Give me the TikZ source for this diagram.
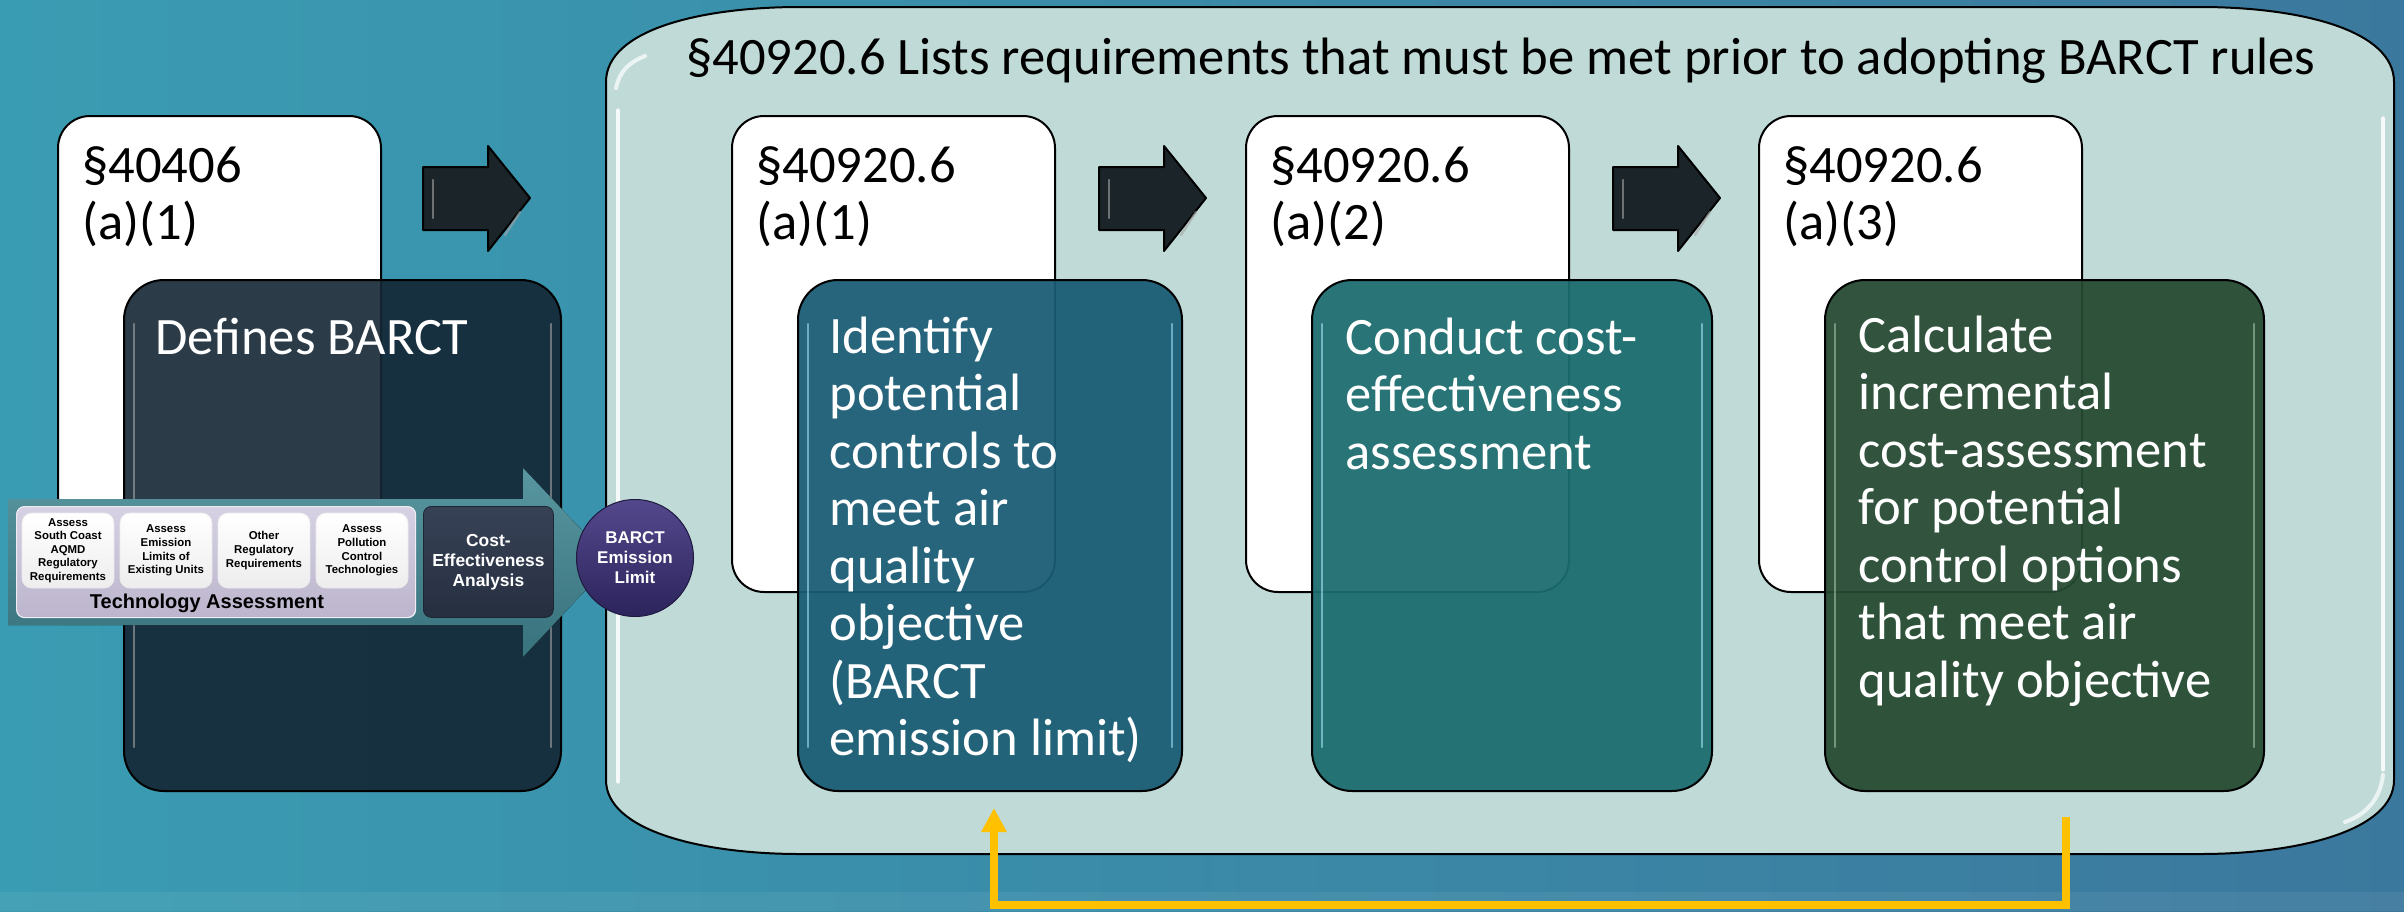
\documentclass[tikz,border=0pt]{standalone}
\usepackage{fontspec}
\setmainfont{Carlito}
\newfontfamily\arialf{Liberation Sans}
\usetikzlibrary{arrows.meta,calc}
\definecolor{bgL}{RGB}{58,156,178}
\definecolor{bgR}{RGB}{59,120,157}
\definecolor{cont}{RGB}{192,218,215}
\definecolor{darkb}{RGB}{20,38,52}
\definecolor{blueb}{RGB}{26,92,116}
\definecolor{tealb}{RGB}{28,108,110}
\definecolor{greenb}{RGB}{38,74,50}
\definecolor{arrowd}{RGB}{27,36,40}
\definecolor{bandT}{RGB}{88,150,160}
\definecolor{bandB}{RGB}{56,114,124}
\definecolor{lavT}{RGB}{214,209,227}
\definecolor{lavB}{RGB}{188,181,205}
\definecolor{ceaT}{RGB}{56,66,86}
\definecolor{ceaB}{RGB}{38,47,64}
\definecolor{circT}{RGB}{84,72,140}
\definecolor{circB}{RGB}{44,36,92}
\definecolor{yel}{RGB}{255,192,0}
\tikzset{
  whitebox/.style={draw=black, line width=1pt, fill=white, rounded corners=16pt,
    minimum width=161.5pt, minimum height=238pt, anchor=north west, inner sep=0},
  colbox/.style={draw=black, line width=1pt, rounded corners=20pt, fill opacity=.94,
    minimum height=255.5pt, anchor=north west, inner sep=0},
  bigtxt/.style={inner sep=0, anchor=base west, font=\fontsize{26.3}{28.75}\selectfont},
  blockarrow/.style={fill=arrowd, draw=black, line width=1pt, line join=round},
  glint/.style={line width=1.2pt, opacity=.6, line cap=round},
  minibox/.style={draw=white!85!gray, line width=0.4pt, rounded corners=5pt,
    top color=white, bottom color=gray!14, minimum width=46pt, minimum height=37.5pt,
    inner sep=0, align=center, text=black,
    font=\arialf\bfseries\fontsize{5.7}{6.8}\selectfont},
  smallbold/.style={inner sep=0, align=center, text=white,
    font=\arialf\bfseries\fontsize{8.7}{10}\selectfont},
}
\newcommand\lines[1]{\parbox[t]{300pt}{\raggedright #1}}
\begin{document}
\begin{tikzpicture}[x=0.5pt,y=-0.5pt]
\useasboundingbox (0,0) rectangle (2404,911);
% background
\fill[left color=bgL, right color=bgR] (0,0) rectangle (2404,911);
\fill[white, opacity=.06] (0,892) rectangle (2404,911);

% left section
\node[whitebox] (w0) at (57,115) {};
\node[bigtxt] (w0t) at ($(w0.north west)+(25,67)$) {\lines{§40406\\(a)(1)}};
\draw[blockarrow] (423,167) -- ++(65,0) -- ++(0,-21) -- ++(42,52) -- ++(-42,53) -- ++(0,-21) -- ++(-65,0) -- cycle;
\draw[glint, gray!70] (433,180) -- (433,218);
\draw[glint, gray!70] (505,235) -- (520,212);

% container
\draw[fill=cont, line width=1pt] (606,82) -- (606,780) .. controls (606,830) and (700,854) .. (800,854)
  -- (2200,854) .. controls (2300,854) and (2394,830) .. (2394,780) -- (2394,82)
  .. controls (2394,30) and (2300,7) .. (2200,7) -- (800,7) .. controls (700,7) and (606,30) .. (606,82) -- cycle;
\draw[white, line width=1.6pt, opacity=.85, line cap=round] (618,110) -- (618,782);
\draw[white, line width=1.6pt, opacity=.85, line cap=round] (2383,118) -- (2383,770);
\draw[white, line width=2pt, opacity=.7, line cap=round] (616,88) .. controls (620,70) and (630,62) .. (645,56);
\draw[white, line width=2pt, opacity=.7, line cap=round] (2383,775) .. controls (2380,800) and (2365,815) .. (2345,822);
\node[inner sep=0, anchor=base west, font=\fontsize{26.3}{30}\selectfont] (title) at (686,74)
  {§40920.6 Lists requirements that must be met prior to adopting BARCT rules};

% white boxes inside container
\node[whitebox] (w1) at (731,115) {};
\node[whitebox] (w2) at (1245,115) {};
\node[whitebox] (w3) at (1758,115) {};
\node[bigtxt] (w1t) at ($(w1.north west)+(25,67)$) {\lines{§40920.6\\(a)(1)}};
\node[bigtxt] (w2t) at ($(w2.north west)+(25,67)$) {\lines{§40920.6\\(a)(2)}};
\node[bigtxt] (w3t) at ($(w3.north west)+(25,67)$) {\lines{§40920.6\\(a)(3)}};
\foreach \x in {1099,1613}{
  \draw[blockarrow] (\x,167) -- ++(65,0) -- ++(0,-21) -- ++(42,52) -- ++(-42,53) -- ++(0,-21) -- ++(-65,0) -- cycle;
  \draw[glint, gray!70] (\x+10,180) -- (\x+10,218);
  \draw[glint, gray!70] (\x+82,235) -- (\x+97,212);
}

% coloured boxes
\node[colbox, fill=blueb, minimum width=192pt] (c1) at (797,279) {};
\node[colbox, fill=tealb, minimum width=200pt] (c2) at (1311,279) {};
\node[colbox, fill=greenb, minimum width=219.5pt] (c3) at (1824,279) {};
\node[colbox, fill=darkb, fill opacity=.9, minimum width=218.5pt] (c0) at (123,279) {};
\foreach \n/\h in {c0/{gray!70}, c1/{cyan!40!white}, c2/{cyan!35!white}, c3/{green!20!gray!60!white}}{
  \draw[glint, \h] ($(\n.north west)+(11,45)$) -- ($(\n.south west)+(11,-45)$);
  \draw[glint, \h] ($(\n.north east)+(-11,45)$) -- ($(\n.south east)+(-11,-45)$);
}
\node[bigtxt, text=white] (c0t) at ($(c0.north west)+(32,75)$) {\lines{Defines BARCT}};
\node[bigtxt, text=white] (c1t) at ($(c1.north west)+(32,74)$)
  {\lines{Identify\\potential\\controls to\\meet air\\quality\\objective\\(BARCT\\emission limit)}};
\node[bigtxt, text=white] (c2t) at ($(c2.north west)+(34,75)$)
  {\lines{Conduct cost-\\effectiveness\\assessment}};
\node[bigtxt, text=white] (c3t) at ($(c3.north west)+(34,73)$)
  {\lines{Calculate\\incremental\\cost-assessment\\for potential\\control options\\that meet air\\quality objective}};

% technology assessment band
\fill[top color=bandT, bottom color=bandB] (8,499) -- (523,499) -- (523,468) -- (612,562) -- (523,657) -- (523,625) -- (8,625) -- cycle;
\node[draw=white!60!lavT, line width=.6pt, rounded corners=4pt, top color=lavT, bottom color=lavB,
  minimum width=199.5pt, minimum height=55.5pt, anchor=north west, inner sep=0] (ta) at (16,506) {};
\node[minibox] (m1) at (68,550.5) {Assess\\South Coast\\AQMD\\Regulatory\\Requirements};
\node[minibox] (m2) at (166,550.5) {Assess\\Emission\\Limits of\\Existing Units};
\node[minibox] (m3) at (264,550.5) {Other\\Regulatory\\Requirements};
\node[minibox] (m4) at (362,550.5) {Assess\\Pollution\\Control\\Technologies};
\node[inner sep=0, anchor=base, font=\arialf\bfseries\fontsize{10}{12}\selectfont] (tat) at (207,608) {Technology Assessment};
\node[rounded corners=4pt, top color=ceaT, bottom color=ceaB, draw=ceaB!80!black, line width=.4pt,
  minimum width=65pt, minimum height=55.5pt, anchor=north west, inner sep=0] (ce) at (423,506) {};
\node[smallbold] (cet) at (ce.center) {Cost-\\Effectiveness\\Analysis};
\node[circle, minimum size=58.5pt, inner sep=0, top color=circT, bottom color=circB, draw=circB!70!black, line width=.5pt] (bl) at (635,558) {};
\node[smallbold, font=\arialf\bfseries\fontsize{8.5}{10}\selectfont] (blt) at (bl.center) {BARCT\\Emission\\Limit};

% feedback arrow
\coordinate (ys) at (2066,817);
\coordinate (yb) at (2066,905);
\coordinate (ye) at (994,808);
\draw[yel, line width=4.2pt, -{Triangle[length=12pt,width=12pt]}] (ys) -- (yb) -| (ye);
\end{tikzpicture}
\end{document}
